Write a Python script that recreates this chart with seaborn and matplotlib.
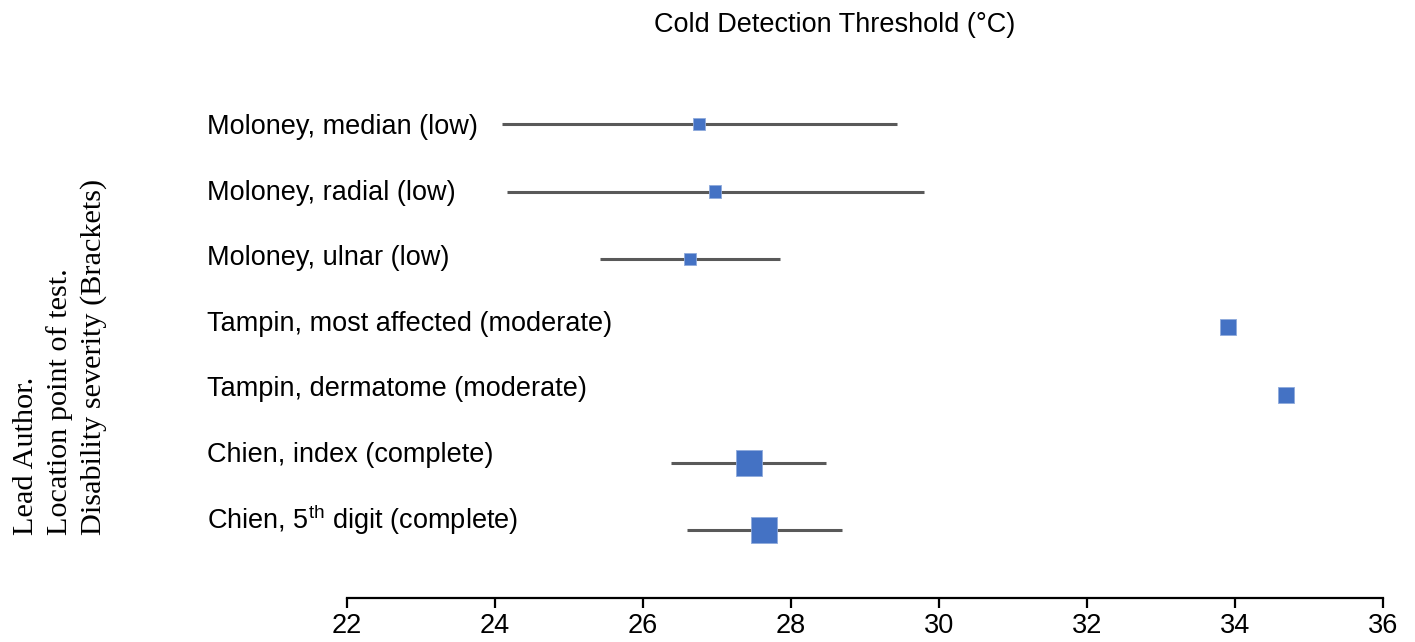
import matplotlib
matplotlib.use("Agg")
import matplotlib.pyplot as plt
import matplotlib.transforms as mtransforms
import numpy as np
import pandas as pd
import seaborn as sns

# ---- data ----
studies = [
    "Moloney, median (low)",
    "Moloney, radial (low)",
    "Moloney, ulnar (low)",
    "Tampin, most affected (moderate)",
    "Tampin, dermatome (moderate)",
    "Chien, index (complete)",
    r"Chien, 5$^{\mathrm{th}}$ digit (complete)",
]
means = [26.76, 26.97, 26.64, 33.90, 34.69, 27.43, 27.64]
ci_low = [24.09, 24.16, 25.42, np.nan, np.nan, 26.38, 26.59]
ci_high = [29.43, 29.80, 27.85, np.nan, np.nan, 28.47, 28.69]
weights = [12, 12.5, 12, 16, 16, 26, 26]  # relative marker weight
x_ticks = [22, 24, 26, 28, 30, 32, 34, 36]
title = "Cold Detection Threshold (°C)"
ylabel = "Lead Author.\nLocation point of test.\nDisability severity (Brackets)"

sns.set_theme(style="white")
plt.rcParams["font.family"] = ["Liberation Sans", "DejaVu Sans"]
plt.rcParams["mathtext.fontset"] = "custom"
plt.rcParams["mathtext.rm"] = "Liberation Sans"
plt.rcParams["mathtext.it"] = "Liberation Sans:italic"
plt.rcParams["mathtext.bf"] = "Liberation Sans:bold"
plt.rcParams["text.color"] = "black"
plt.rcParams["xtick.color"] = "black"
plt.rcParams["xtick.labelcolor"] = "black"

df = pd.DataFrame({
    "study": studies,
    "row": np.arange(len(studies)),
    "mean": means,
    "lo": ci_low,
    "hi": ci_high,
    "w": weights,
})
df["s"] = (df["w"] / (100 / 72)) ** 2

W, H = 1415, 642
fig = plt.figure(figsize=(W / 100, H / 100), dpi=100)
ax = fig.add_axes([347 / W, 1 - 598 / H, (1383 - 347) / W, (598 - 56.3) / H])

ci = df.dropna(subset=["lo", "hi"])
ax.hlines(ci["row"], ci["lo"], ci["hi"], color="#595959", linewidth=2.2, zorder=2)

sns.scatterplot(data=df, x="mean", y="row", marker="s", s=df["s"].values,
                color="#4472C4", edgecolor="#8FAADC", linewidth=0.6,
                legend=False, ax=ax, zorder=3)

ax.set_xlim(22, 36)
ax.set_ylim(7.0, -1.0)
ax.set_xticks(x_ticks)
ax.set_xticklabels([str(t) for t in x_ticks], fontsize=19.5, color="black")
ax.set_yticks([])
ax.set_xlabel("")
ax.set_ylabel("")
for side in ["left", "right", "top"]:
    ax.spines[side].set_visible(False)
ax.spines["bottom"].set_color("black")
ax.spines["bottom"].set_linewidth(1.6)
ax.tick_params(axis="x", direction="out", length=7, width=1.6, color="black",
               pad=4, bottom=True)

trans = mtransforms.blended_transform_factory(fig.transFigure, ax.transData)
for i, lab in enumerate(studies):
    ax.text(207 / W, 0.045 + 0.9675 * i, lab, transform=trans, ha="left",
            va="center", fontsize=19.5, color="black")

fig.text(835 / W, 1 - 25 / H, title, ha="center", va="center", fontsize=19.5,
         color="black")
fig.text(60 / W, 1 - 357 / H, ylabel, rotation=90, ha="center", va="center",
         multialignment="left", fontsize=21.8, color="black",
         family=["Liberation Serif", "DejaVu Serif"], linespacing=1.32)

fig.savefig("out.png", dpi=100, facecolor="white")
